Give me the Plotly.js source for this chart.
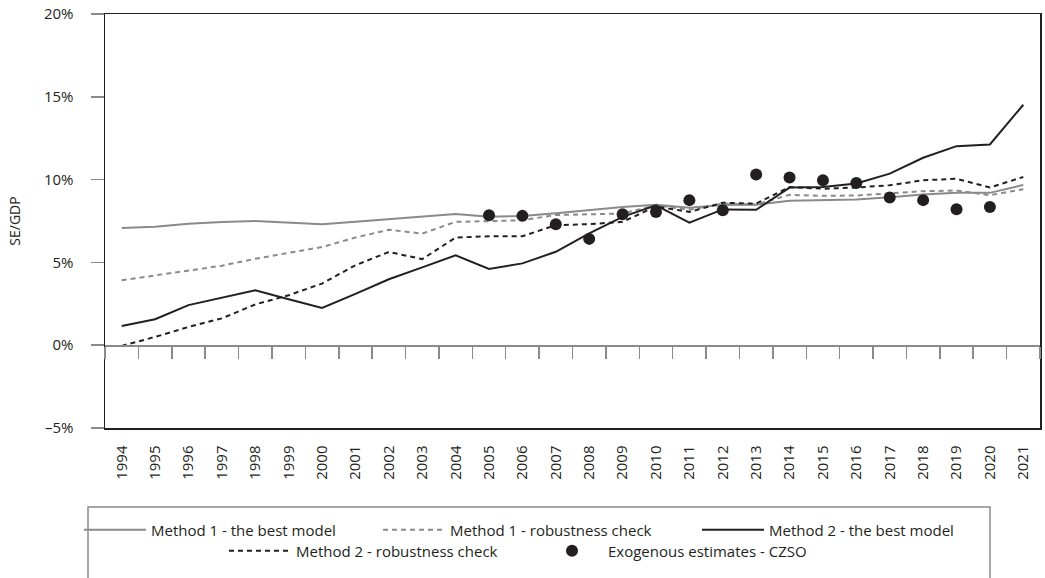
<!DOCTYPE html>
<html>
<head>
<meta charset="utf-8">
<script src="https://cdn.plot.ly/plotly-3.0.1.min.js"></script>
<style>html,body{margin:0;padding:0;background:#fff;}#chart{width:1045px;height:578px;}</style>
</head>
<body>
<div id="chart"></div>
<script>
const years = ['1994','1995','1996','1997','1998','1999','2000','2001','2002','2003','2004','2005','2006','2007','2008','2009','2010','2011','2012','2013','2014','2015','2016','2017','2018','2019','2020','2021'];
const method1Best   = [7.08,7.16,7.33,7.44,7.5,7.4,7.3,7.45,7.6,7.75,7.93,7.76,7.8,7.97,8.18,8.35,8.48,8.3,8.47,8.48,8.72,8.74,8.8,8.94,9.1,9.2,9.2,9.68];
const method1Robust = [3.92,4.2,4.5,4.8,5.22,5.57,5.93,6.5,6.97,6.74,7.45,7.49,7.55,7.86,7.91,7.95,8.45,8.18,8.55,8.5,9.08,9.02,9.04,9.16,9.3,9.34,9.06,9.42];
const method2Best   = [1.16,1.57,2.42,2.86,3.32,2.78,2.25,3.1,3.98,4.7,5.43,4.6,4.94,5.64,6.75,7.75,8.45,7.4,8.2,8.18,9.52,9.56,9.76,10.36,11.32,12.02,12.12,14.52];
const method2Robust = [-0.04,0.5,1.1,1.62,2.46,3.02,3.72,4.83,5.63,5.2,6.5,6.58,6.58,7.25,7.31,7.45,8.38,8.05,8.6,8.55,9.55,9.45,9.52,9.66,9.96,10.05,9.52,10.16];
const czsoYears = ['2005','2006','2007','2008','2009','2010','2011','2012','2013','2014','2015','2016','2017','2018','2019','2020'];
const czsoValues = [7.85,7.81,7.31,6.42,7.91,8.05,8.76,8.15,10.31,10.13,9.96,9.8,8.92,8.76,8.21,8.35];
const yTickVals = [-5,0,5,10,15,20];
const yTickText = ['–5%','0%','5%','10%','15%','20%'];
const seriesNames = ['Method 1 - the best model','Method 1 - robustness check','Method 2 - the best model','Method 2 - robustness check','Exogenous estimates - CZSO'];

const GRAY = '#8a8a8a', DARK = '#231f20';
const FONT = 'Open Sans, Noto Sans, sans-serif';

const traces = [
  {x: years, y: method1Best, name: seriesNames[0], mode: 'lines', line: {color: GRAY, width: 2}, legend: 'legend'},
  {x: years, y: method1Robust, name: seriesNames[1], mode: 'lines', line: {color: GRAY, width: 2, dash: '5px,4px'}, legend: 'legend2'},
  {x: years, y: method2Best, name: seriesNames[2], mode: 'lines', line: {color: DARK, width: 2}, legend: 'legend3'},
  {x: years, y: method2Robust, name: seriesNames[3], mode: 'lines', line: {color: DARK, width: 2, dash: '5px,4px'}, legend: 'legend4'},
  {x: czsoYears, y: czsoValues, name: seriesNames[4], mode: 'markers', marker: {color: DARK, size: 12}, legend: 'legend5'},
  {x: years, y: years.map(() => null), xaxis: 'x2', mode: 'lines', showlegend: false, hoverinfo: 'skip'}
];

// pixel helpers for legend placement (plot area 105..1040 x 14..428)
const px2x = p => (p - 105) / 935;
const px2y = p => (428 - p) / 414;
function leg(xp, yp) {
  return {x: px2x(xp), y: px2y(yp), xanchor: 'left', yanchor: 'middle', orientation: 'h',
          bgcolor: 'rgba(0,0,0,0)', borderwidth: 0, itemwidth: 62,
          font: {family: FONT, size: 15, color: DARK}};
}

const layout = {
  width: 1045, height: 578,
  margin: {l: 105, r: 5, t: 14, b: 150, autoexpand: false},
  paper_bgcolor: '#fff', plot_bgcolor: '#fff',
  font: {family: FONT, size: 15, color: DARK},
  showlegend: true,
  xaxis: {
    type: 'category', categoryorder: 'array', categoryarray: years, range: [-0.5, 27.5],
    showline: true, mirror: true, linecolor: DARK, linewidth: 1.5,
    ticks: '', showgrid: false, zeroline: false, tickangle: -90,
    tickfont: {family: FONT, size: 15, color: DARK}, ticklabelstandoff: 10
  },
  xaxis2: {
    type: 'category', categoryorder: 'array', categoryarray: years, range: [-0.5, 27.5],
    overlaying: 'x', anchor: 'free', position: 0.2,
    showline: true, linecolor: '#8a8a8a', linewidth: 1.5,
    ticks: 'outside', tickson: 'boundaries', ticklen: 12, tickcolor: '#8a8a8a', tickwidth: 1.5,
    showticklabels: false, showgrid: false, zeroline: false
  },
  yaxis: {
    range: [-5, 20], tickvals: yTickVals, ticktext: yTickText,
    showline: true, mirror: true, linecolor: DARK, linewidth: 1.5,
    ticks: 'outside', ticklen: 13, tickcolor: '#8a8a8a', tickwidth: 1.5,
    showgrid: false, zeroline: false, ticklabelstandoff: 14,
    tickfont: {family: FONT, size: 15, color: DARK},
    title: {text: 'SE/GDP', font: {family: FONT, size: 14, color: DARK}, standoff: 20}
  },
  legend: leg(79, 530),
  legend2: leg(378, 530),
  legend3: leg(697, 530),
  legend4: leg(224, 551),
  legend5: leg(536, 551),
  shapes: [
    {type: 'rect', xref: 'paper', yref: 'paper', x0: px2x(88), x1: px2x(990), y0: px2y(507), y1: px2y(640),
     line: {color: '#8a8a8a', width: 1.5}, fillcolor: 'rgba(0,0,0,0)', layer: 'below'}
  ]
};

Plotly.newPlot('chart', traces, layout, {displayModeBar: false, staticPlot: true});
</script>
</body>
</html>
